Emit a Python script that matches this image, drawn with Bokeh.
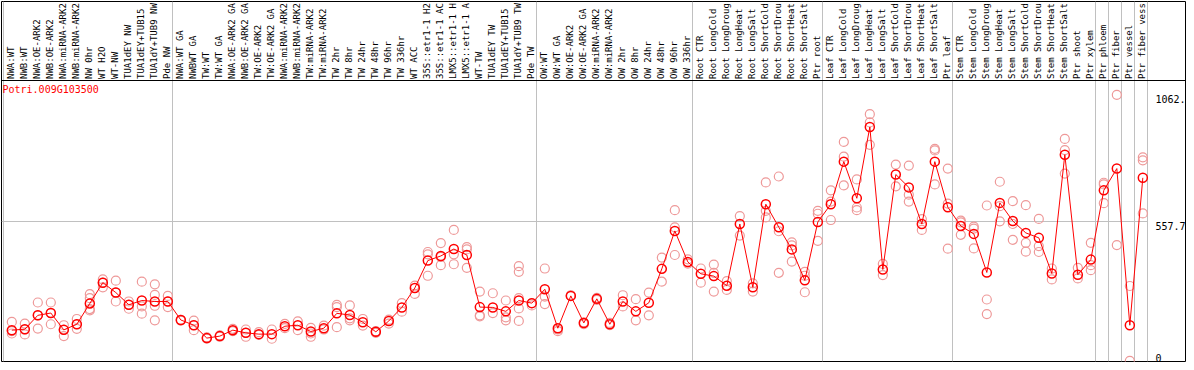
import numpy as np
from bokeh.plotting import figure
from bokeh.models import Range1d, Span
from bokeh.core.properties import value
from bokeh.embed import file_html
from bokeh.resources import INLINE

gene = "Potri.009G103500"

# category labels as shown (truncated) in the reference header
categories = [
    "NWA:WT", "NWB:WT", "NWA:OE-ARK2", "NWB:OE-ARK2", "NWA:miRNA-ARK2", "NWB:miRNA-ARK2",
    "NW 0hr", "WT H2O", "WT-NW", "TUA1dEY NW", "TUA1dEY+TUB15", "TUA1dY+TUB9 NW", "Pde NW",
    "NWA:WT GA", "NWBWT GA", "TW:WT", "TW:WT GA", "NWA:OE-ARK2 GA", "NWB:OE-ARK2 GA",
    "TW:OE-ARK2", "TW:OE-ARK2 GA", "NWA:miRNA-ARK2", "NWB:miRNA-ARK2", "TW:miRNA-ARK2",
    "TW:miRNA-ARK2", "TW 2hr", "TW 8hr", "TW 24hr", "TW 48hr", "TW 96hr", "TW 336hr",
    "WT ACC", "35S::etr1-1 H2", "35S::etr1-1 AC", "LMX5::etr1-1 H", "LMX5::etr1-1 A",
    "WT-TW", "TUA1dEY TW", "TUA1dEY+TUB15", "TUA1dY+TUB9 TW", "Pde TW",
    "OW:WT", "OW:WT GA", "OW:OE-ARK2", "OW:OE-ARK2 GA", "OW:miRNA-ARK2", "OW:miRNA-ARK2",
    "OW 2hr", "OW 8hr", "OW 24hr", "OW 48hr", "OW 96hr", "OW 336hr",
    "Root CTR", "Root LongCold", "Root LongDroug", "Root LongHeat", "Root LongSalt",
    "Root ShortCold", "Root ShortDrou", "Root ShortHeat", "Root ShortSalt", "Ptr root",
    "Leaf CTR", "Leaf LongCold", "Leaf LongDroug", "Leaf LongHeat", "Leaf LongSalt",
    "Leaf ShortCold", "Leaf ShortDrou", "Leaf ShortHeat", "Leaf ShortSalt", "Ptr leaf",
    "Stem CTR", "Stem LongCold", "Stem LongDroug", "Stem LongHeat", "Stem LongSalt",
    "Stem ShortCold", "Stem ShortDrou", "Stem ShortHeat", "Stem ShortSalt", "Ptr shoot",
    "Ptr xylem", "Ptr phloem", "Ptr fiber", "Ptr vessel", "Ptr fiber vess",
]

# index of first category of each group (last value = end of last group)
group_starts = [0, 13, 41, 53, 63, 73, 84, 85, 86, 87, 88]

means = [
    124.8, 128.7, 183.9, 193.1, 126.1, 148.4, 231.2, 314.0, 274.6, 225.9, 243.0, 239.1, 239.1,
    165.5, 144.5, 93.2, 101.1, 124.8, 114.2, 109.0, 109.0, 140.5, 144.5, 119.5, 132.6, 191.8,
    185.2, 156.3, 118.2, 161.5, 215.4, 292.9, 402.0, 420.4, 448.0, 424.3, 216.7, 215.4, 199.7,
    243.0, 232.5,
    287.7, 132.6, 261.4, 153.7, 249.6, 148.4, 239.1, 199.7, 233.8, 369.1, 520.2, 396.7,
    349.4, 340.2, 302.1, 547.8, 295.6, 626.6, 534.7, 446.6, 323.2, 555.7,
    626.6, 796.1, 650.3, 934.1, 366.5, 744.9, 693.6, 547.8, 796.1, 614.8,
    539.9, 508.4, 354.7, 631.9, 559.6, 512.3, 492.6, 350.7, 823.7, 345.5, 405.9,
    681.8, 768.5, 144.5, 731.7,
]

replicates = [
    [157.6, 120.8, 111.6], [151.0, 127.4, 107.7], [235.1, 183.9, 131.3], [235.1, 193.1, 148.4],
    [144.5, 126.1, 101.1], [169.4, 148.4, 130.0], [268.0, 252.2, 208.8, 203.6], [327.1, 314.0, 295.6],
    [321.8, 274.6, 239.1], [239.1, 225.9, 210.2], [317.9, 219.4, 190.5], [307.4, 265.3, 222.0, 164.2],
    [261.4, 239.1, 216.7],
    [165.5, 162.9], [162.9, 144.5, 124.8], [95.9, 90.6], [103.7, 98.5], [130.0, 120.8],
    [127.4, 114.2, 98.5], [116.9, 106.4], [127.4, 90.6], [149.7, 132.6], [160.2, 124.8],
    [134.0, 111.6, 98.5], [143.2, 127.4], [225.9, 216.7, 136.6], [223.3, 172.1, 164.2],
    [169.4, 143.2], [120.8, 114.2], [166.8, 151.0], [232.5, 198.3], [302.1, 269.3],
    [436.2, 427.0, 341.5], [471.6, 416.4, 383.6], [524.2, 427.0, 387.5], [455.8, 446.6, 373.1],
    [278.5, 183.9, 180.0], [271.9, 193.1], [243.0, 176.0, 164.2],
    [379.6, 357.3, 252.2, 211.5, 161.5], [232.5, 223.3],
    [370.4, 258.8, 228.6], [127.4, 120.8], [264.0, 261.4], [156.3, 148.4], [253.5, 245.6],
    [153.7, 144.5], [264.0, 219.4], [248.3, 164.2], [274.6, 183.9], [413.8, 317.9],
    [603.0, 534.7, 424.3], [407.2, 390.2],
    [370.4, 314.0], [386.2, 353.4, 278.5], [320.5, 285.0], [579.3, 501.8], [311.3, 278.5],
    [713.4, 600.4, 574.1], [737.0, 518.9, 353.4], [474.2, 462.4, 398.0], [357.3, 341.5, 275.9],
    [600.4, 588.5, 480.8],
    [681.8, 637.2, 563.6], [874.9, 815.8, 701.5], [725.2, 613.5, 603.0], [985.3, 952.5, 863.1],
    [388.8, 344.2], [784.3, 697.6], [780.3, 664.7, 637.1], [567.5, 524.2], [847.4, 840.8, 705.5],
    [768.5, 629.3, 449.3],
    [561.0, 554.4, 504.5], [537.3, 529.4, 450.6], [621.4, 247.0, 189.1], [716.0, 618.8, 558.3],
    [638.5, 547.8, 484.7], [622.7, 472.9, 437.5], [568.0, 459.8, 436.2], [370.4, 327.1],
    [886.8, 842.1, 748.8], [373.1, 331.0], [472.9, 383.6, 363.9],
    [712.0, 705.5, 630.6], [1062.3, 463.7], [300.8, 2.6], [813.2, 801.4, 589.8],
]

y_ticks = [0, 557.7, 1062.3]
y_tick_labels = ["0", "557.7", "1062."]

# ---------------- layout (pixels) ----------------
W, H = 1186, 362
PITCH = 13.0              # px per category
FRAME_W, FRAME_H = W - 2, H - 2
DATA_H = 280.0            # px height of the data area
LEFT_PAD = 2.0            # px between frame left and first separator
PT_OFF = 0.64             # point offset inside a category cell

ytop = max(max(r) for r in replicates) * 1.05
per_px = ytop / DATA_H
x_start = -LEFT_PAD / PITCH
x_end = x_start + FRAME_W / PITCH
y_end = FRAME_H * per_px

FONT = value("DejaVu Sans Mono")

p = figure(width=W, height=H, x_range=Range1d(x_start, x_end), y_range=Range1d(0, y_end),
           x_axis_type=None, y_axis_type=None, toolbar_location=None, output_backend="svg",
           min_border_left=1, min_border_right=1, min_border_top=1, min_border_bottom=1)
p.outline_line_color = "black"
p.outline_line_width = 1
p.background_fill_color = "white"
p.border_fill_color = "white"
p.grid.visible = False

n = len(categories)
xs = np.arange(n) + PT_OFF

# group separators
p.segment(x0=group_starts, y0=0, x1=group_starts, y1=y_end, line_color="#c0c0c0", line_width=1)
# middle horizontal grid line
p.segment(x0=[x_start], y0=[y_ticks[1]], x1=[group_starts[-1]], y1=[y_ticks[1]],
          line_color="#c0c0c0", line_width=1)
# header separator
p.add_layout(Span(location=ytop + 1 * per_px, dimension="width", line_color="black", line_width=1))

# replicates
rx = np.concatenate([[xs[i]] * len(r) for i, r in enumerate(replicates)])
ry = np.concatenate([r for r in replicates])
p.scatter(rx, ry, marker="circle", size=9, fill_color=None, line_color="#ee9999", line_width=1.2)

# mean line and markers
p.line(xs, means, line_color="red", line_width=1)
p.scatter(xs, means, marker="circle", size=9, fill_color=None, line_color="red", line_width=1.5)

# category labels (rotated)
p.text(x=xs - 0.1, y=[ytop + 2.5 * per_px] * n, text=categories, angle=np.pi / 2,
       text_align="left", text_baseline="middle", text_font=FONT, text_font_size="9px",
       text_color="black")

# gene title
p.text(x=[x_start + 1.0 / PITCH], y=[ytop - 8 * per_px], text=[gene], text_align="left",
       text_baseline="middle", text_font=FONT, text_font_size="10px", text_color="red")

# right value labels
xl = group_starts[-1] + 8.0 / PITCH
p.text(x=[xl], y=[y_ticks[0]], text=[y_tick_labels[0]], text_align="left",
       text_baseline="bottom", text_font=FONT, text_font_size="10px", text_color="black")
p.text(x=[xl, xl], y=y_ticks[1:], text=y_tick_labels[1:], text_align="left",
       text_baseline="top", text_font=FONT, text_font_size="10px", text_color="black")

open("out.html", "w").write(file_html(p, INLINE))
